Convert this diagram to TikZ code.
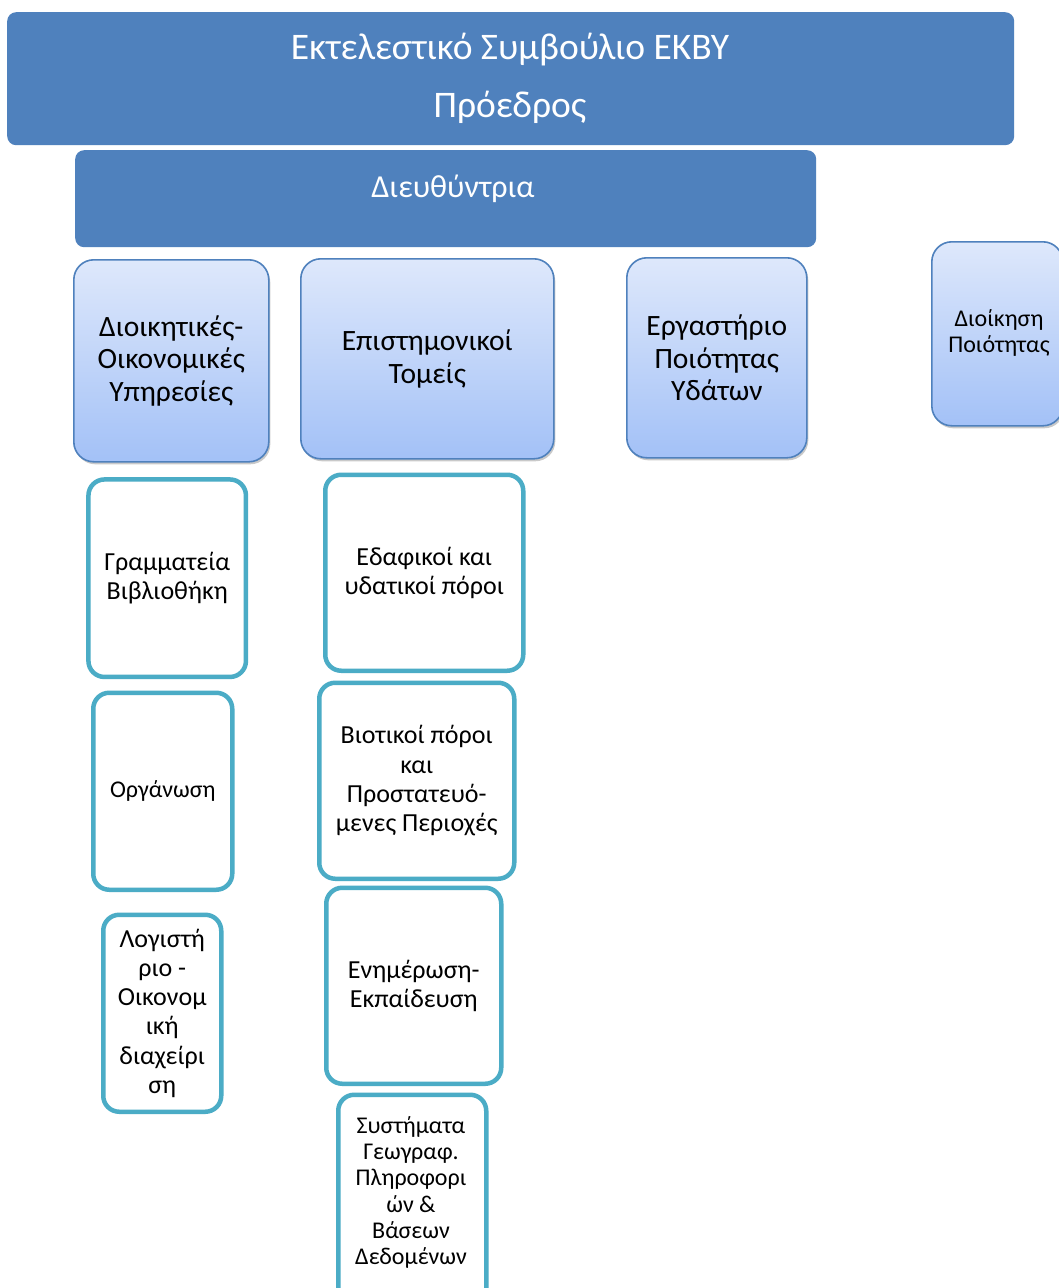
\documentclass[tikz,border=0pt]{standalone}
\usepackage{fontspec}
\setmainfont{Carlito}
\usetikzlibrary{shadows}
\definecolor{dkblue}{HTML}{4F81BD}
\definecolor{ltop}{HTML}{DEE8FB}
\definecolor{lbot}{HTML}{A3C1F7}
\definecolor{lborder}{HTML}{4F81BD}
\definecolor{teal}{HTML}{4BACC6}
\tikzset{
  darkbox/.style={fill=dkblue, draw=none, rounded corners=9pt, anchor=north west, inner sep=0pt, text=white, align=center},
  lightbox/.style={draw=lborder, line width=1.6pt, top color=ltop, bottom color=lbot, rounded corners=20pt, anchor=north west, inner sep=0pt, align=center,
     drop shadow={shadow xshift=1.5pt, shadow yshift=-2.5pt, opacity=0.35, fill=black!60}},
  tealbox/.style={draw=teal, fill=white, line width=4.5pt, rounded corners=16pt, anchor=north west, inner sep=0pt, align=center},
  bigtxt/.style={font=\fontsize{29.5}{32.5}\selectfont},
  midtxt/.style={font=\fontsize{26}{29.2}\selectfont},
  smltxt/.style={font=\fontsize{24}{26.3}\selectfont},
}
\begin{document}
\begin{tikzpicture}[x=1pt,y=-1pt]
\useasboundingbox[fill=white] (0,0) rectangle (1058,1288);

% top
\node[darkbox, minimum width=1007, minimum height=133] (board) at (7,12) {};
\node[text=white, font=\fontsize{37.5}{40}\selectfont] (boardt1) at (510,50) {Εκτελεστικό Συμβούλιο ΕΚΒΥ};
\node[text=white, font=\fontsize{37.5}{40}\selectfont] (boardt2) at (510,107) {Πρόεδρος};

\node[darkbox, minimum width=741, minimum height=97] (dir) at (75,150) {};
\node[text=white, font=\fontsize{32}{36}\selectfont] (dirt) at (453,189) {Διευθύντρια};

% level 2
\node[lightbox, bigtxt, minimum width=195, minimum height=202] (adm) at (73,259) {Διοικητικές-\\Οικονομικές\\Υπηρεσίες};
\node[lightbox, bigtxt, minimum width=253, minimum height=200] (sci) at (300,258) {Επιστημονικοί\\Τομείς};
\node[lightbox, bigtxt, minimum width=180, minimum height=200] (lab) at (626,257) {Εργαστήριο\\Ποιότητας\\Υδάτων};
\node[lightbox, minimum width=131, minimum height=184] (qual) at (931,241) {};
\node[smltxt, align=center] (qualt) at (999,333) {Διοίκηση\\Ποιότητας};

% admin column
\node[tealbox, midtxt, minimum width=157.5, minimum height=197.5] (gram) at (86.2,477.2) {Γραμματεία\\Βιβλιοθήκη};
\node[tealbox, font=\fontsize{24}{26}\selectfont, minimum width=139, minimum height=197] (org) at (91,690.5) {Οργάνωση};
\node[tealbox, midtxt, minimum width=118, minimum height=197] (acc) at (101,912.5) {Λογιστή\\ριο -\\Οικονομ\\ική\\διαχείρι\\ση};

% science column
\node[tealbox, midtxt, minimum width=198, minimum height=196] (soil) at (323,472.5) {Εδαφικοί και\\υδατικοί πόροι};
\node[tealbox, midtxt, minimum width=195, minimum height=196] (bio) at (317,680.5) {Βιοτικοί πόροι\\και\\Προστατευό-\\μενες Περιοχές};
\node[tealbox, midtxt, minimum width=175, minimum height=196] (edu) at (324,885.5) {Ενημέρωση-\\Εκπαίδευση};
\node[tealbox, minimum width=148, minimum height=220] (gis) at (336,1092.5) {};
\node[smltxt, align=center] (gist) at (411,1192.5) {Συστήματα\\Γεωγραφ.\\Πληροφορι\\ών \&\\Βάσεων\\Δεδομένων};
\end{tikzpicture}
\end{document}
